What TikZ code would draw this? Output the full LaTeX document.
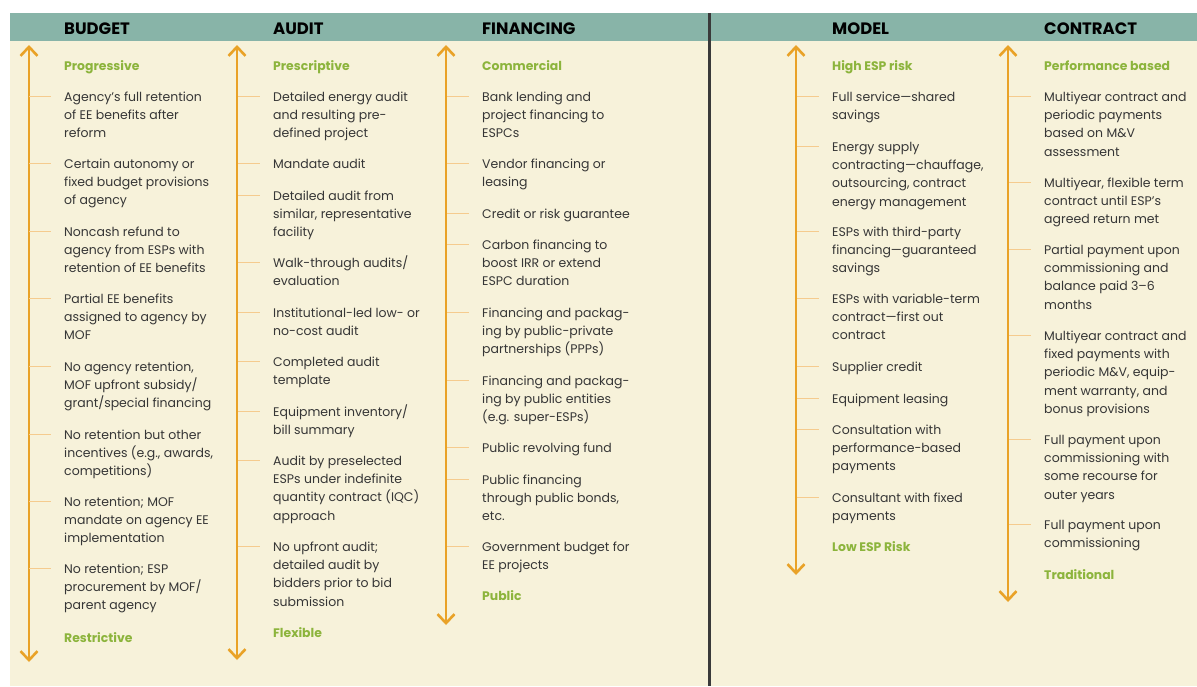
\documentclass[tikz,border=0pt]{standalone}
\usepackage{fontspec}
\setmainfont{Poppins}
\usetikzlibrary{arrows.meta}
\definecolor{headc}{HTML}{88B4A8}
\definecolor{bodyc}{HTML}{F7F2DA}
\definecolor{arrowc}{HTML}{E9A227}
\definecolor{tickc}{HTML}{F5CB8E}
\definecolor{greenc}{HTML}{8CB43C}
\definecolor{txtc}{HTML}{363636}
\definecolor{sepc}{HTML}{3A3A3A}
\tikzset{
 axis/.style={line width=2.6pt, draw=arrowc, {Straight Barb[length=9pt,width=17pt]}-{Straight Barb[length=9pt,width=17pt]}},
 tickl/.style={draw=tickc, line width=1pt},
 txt/.style={anchor=base west, inner sep=0pt, text=txtc, font=\fontsize{12.5}{18.3}\selectfont},
 lab/.style={anchor=base west, inner sep=0pt, text=greenc, font=\bfseries\fontsize{12.4}{14}\selectfont},
 head/.style={anchor=base west, inner sep=0pt, text=black, font=\bfseries\fontsize{16.5}{18}\selectfont},
}
\newcommand\espi[4]{\node[txt] (#1) at (#2,#3) {\begin{tabular}[t]{@{}l@{}}#4\end{tabular}};
 \draw[tickl] ([xshift=-35pt,yshift=4.5pt]#1.base west) -- ++(22pt,0);}
\begin{document}
\begin{tikzpicture}[x=1pt,y=-1pt]
\useasboundingbox (0,0) rectangle (1197,686);
\fill[white] (0,0) rectangle (1197,686);
\fill[bodyc] (10,41) rectangle (1197,686);
\fill[headc] (10,13) rectangle (1197,41);
\draw[sepc, line width=3pt] (709,13) -- (709,686);
% headers
\node[head] (hb) at (64,34.5) {BUDGET};
\node[head] (ha) at (273,34.5) {AUDIT};
\node[head] (hf) at (482,34.5) {FINANCING};
\node[head] (hm) at (832,34.5) {MODEL};
\node[head] (hc) at (1044,34.5) {CONTRACT};
% axes
\coordinate (bt) at (29,45); \coordinate (bb) at (29,662);
\coordinate (at) at (237,45); \coordinate (ab) at (237,660);
\coordinate (ft) at (446,45); \coordinate (fb) at (446,625);
\coordinate (mt) at (796,45); \coordinate (mb) at (796,575);
\coordinate (ct) at (1008,45); \coordinate (cb) at (1008,602);
\draw[axis] (bt) -- (bb);
\draw[axis] (at) -- (ab);
\draw[axis] (ft) -- (fb);
\draw[axis] (mt) -- (mb);
\draw[axis] (ct) -- (cb);
\begin{scope}[yshift=-0.8pt]
% BUDGET
\node[lab] (bl1) at (64,69.5) {Progressive};
\espi{b1}{64}{100.5}{Agency's full retention\\of EE benefits after\\reform}
\espi{b2}{64}{167.5}{Certain autonomy or\\fixed budget provisions\\of agency}
\espi{b3}{64}{235.5}{Noncash refund to\\agency from ESPs with\\retention of EE benefits}
\espi{b4}{64}{302.5}{Partial EE benefits\\assigned to agency by\\MOF}
\espi{b5}{64}{370.5}{No agency retention,\\MOF upfront subsidy/\\grant/special financing}
\espi{b6}{64}{438.5}{No retention but other\\incentives (e.g., awards,\\competitions)}
\espi{b7}{64}{505.5}{No retention; MOF\\mandate on agency EE\\implementation}
\espi{b8}{64}{572.5}{No retention; ESP\\procurement by MOF/\\parent agency}
\node[lab] (bl2) at (64,641.5) {Restrictive};
% AUDIT
\node[lab] (al1) at (273,69.5) {Prescriptive};
\espi{a1}{273}{100.5}{Detailed energy audit\\and resulting pre-\\defined project}
\espi{a2}{273}{167.5}{Mandate audit}
\espi{a3}{273}{199.5}{Detailed audit from\\similar, representative\\facility}
\espi{a4}{273}{266.5}{Walk-through audits/\\evaluation}
\espi{a5}{273}{316.5}{Institutional-led low- or\\no-cost audit}
\espi{a6}{273}{365.5}{Completed audit\\template}
\espi{a7}{273}{415.5}{Equipment inventory/\\bill summary}
\espi{a8}{273}{464.5}{Audit by preselected\\ESPs under indefinite\\quantity contract (IQC)\\approach}
\espi{a9}{273}{550.5}{No upfront audit;\\detailed audit by\\bidders prior to bid\\submission}
\node[lab] (al2) at (273,636.5) {Flexible};
% FINANCING
\node[lab] (fl1) at (482,69.5) {Commercial};
\espi{f1}{482}{100.5}{Bank lending and\\project financing to\\ESPCs}
\espi{f2}{482}{167.5}{Vendor financing or\\leasing}
\espi{f3}{482}{217.5}{Credit or risk guarantee}
\espi{f4}{482}{248.5}{Carbon financing to\\boost IRR or extend\\ESPC duration}
\espi{f5}{482}{316.5}{Financing and packag-\\ing by public-private\\partnerships (PPPs)}
\espi{f6}{482}{384.5}{Financing and packag-\\ing by public entities\\(e.g. super-ESPs)}
\espi{f7}{482}{451.5}{Public revolving fund}
\espi{f8}{482}{483.5}{Public financing\\through public bonds,\\etc.}
\espi{f9}{482}{550.5}{Government budget for\\EE projects}
\node[lab] (fl2) at (482,599.5) {Public};
% MODEL
\node[lab] (ml1) at (832,69.5) {High ESP risk};
\espi{m1}{832}{100.5}{Full service---shared\\savings}
\espi{m2}{832}{150.5}{Energy supply\\contracting---chauffage,\\outsourcing, contract\\energy management}
\espi{m3}{832}{235.5}{ESPs with third-party\\financing---guaranteed\\savings}
\espi{m4}{832}{302.5}{ESPs with variable-term\\contract---first out\\contract}
\espi{m5}{832}{370.5}{Supplier credit}
\espi{m6}{832}{402.5}{Equipment leasing}
\espi{m7}{832}{433.5}{Consultation with\\performance-based\\payments}
\espi{m8}{832}{501.5}{Consultant with fixed\\payments}
\node[lab] (ml2) at (832,550.5) {Low ESP Risk};
% CONTRACT
\node[lab] (cl1) at (1044,69.5) {Performance based};
\espi{c1}{1044}{100.5}{Multiyear contract and\\periodic payments\\based on M\&V\\assessment}
\espi{c2}{1044}{186.5}{Multiyear, flexible term\\contract until ESP's\\agreed return met}
\espi{c3}{1044}{253.5}{Partial payment upon\\commissioning and\\balance paid 3--6\\months}
\espi{c4}{1044}{339.5}{Multiyear contract and\\fixed payments with\\periodic M\&V, equip-\\ment warranty, and\\bonus provisions}
\espi{c5}{1044}{443.5}{Full payment upon\\commissioning with\\some recourse for\\outer years}
\espi{c6}{1044}{528.5}{Full payment upon\\commissioning}
\node[lab] (cl2) at (1044,578.5) {Traditional};
\end{scope}
\end{tikzpicture}
\end{document}
